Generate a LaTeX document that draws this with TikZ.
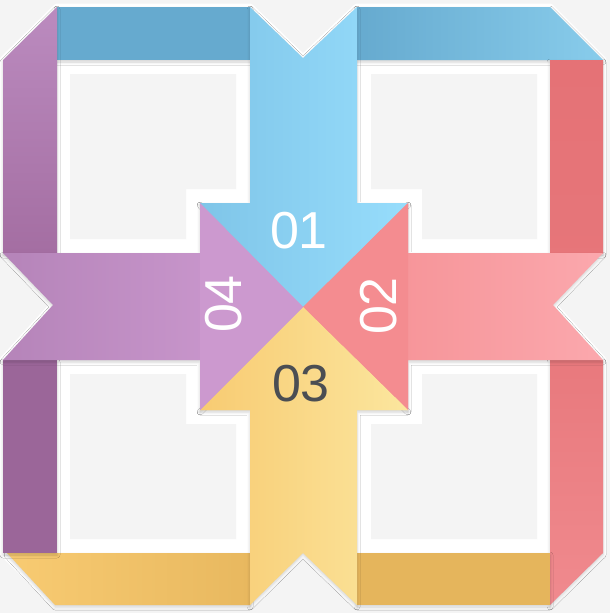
\documentclass[tikz,border=0pt]{standalone}
\usepackage{fontspec}
\setmainfont{Liberation Sans}
\usetikzlibrary{shadows.blur}

\definecolor{bgGray}{HTML}{F4F4F4}
\definecolor{blueL}{HTML}{7FC5E8}
\definecolor{blueR}{HTML}{97DDFC}
\definecolor{blueDark}{HTML}{66AACF}
\definecolor{blueMid}{HTML}{88CCEB}
\definecolor{redBand}{HTML}{E57276}
\definecolor{redLow}{HTML}{F08A8E}
\definecolor{pinkL}{HTML}{F48C90}
\definecolor{pinkR}{HTML}{FBA8AD}
\definecolor{yellowL}{HTML}{F8CB72}
\definecolor{yellowR}{HTML}{FBE69E}
\definecolor{goldBand}{HTML}{E5B55C}
\definecolor{goldMid}{HTML}{E8B85F}
\definecolor{purpleL}{HTML}{B584B9}
\definecolor{purpleR}{HTML}{D09DD3}
\definecolor{purpleDark}{HTML}{9B6699}
\definecolor{purpleTop}{HTML}{BB8BBF}
\definecolor{purpleMid}{HTML}{A46EA2}
\definecolor{numGray}{HTML}{4B4E53}

\tikzset{
  band/.style={blur shadow={shadow xshift=0pt, shadow yshift=-2pt,
      shadow blur radius=3pt, shadow opacity=18}},
  holeinner/.style={fill=bgGray},
  num/.style={font=\fontsize{52}{52}\selectfont, inner sep=0pt},
}

\begin{document}
\begin{tikzpicture}[x=1pt,y=-1pt]
  \fill[bgGray] (0,0) rectangle (610,613);
  \useasboundingbox (0,0) rectangle (610,613);

  % white outline round the whole ribbon
  \draw[white, fill=white, line width=7pt, line join=round]
    (57,7) -- (250,7) -- (303,58) -- (357,7) -- (550,7) -- (603,60)
    -- (603,253) -- (553,305) -- (603,360) -- (603,553) -- (550,605)
    -- (357,605) -- (303,553) -- (250,605) -- (55,605) -- (3,553)
    -- (3,360) -- (53,305) -- (3,253) -- (3,60) -- cycle;

  % the four holes
  \fill[holeinner] (70,74) -- (236,74) -- (236,189) -- (186,189) -- (186,239) -- (70,239) -- cycle;
  \fill[holeinner] (371,74) -- (537,74) -- (537,239) -- (422,239) -- (422,189) -- (371,189) -- cycle;
  \fill[holeinner] (70,374) -- (186,374) -- (186,424) -- (236,424) -- (236,539) -- (70,539) -- cycle;
  \fill[holeinner] (422,374) -- (537,374) -- (537,539) -- (371,539) -- (371,424) -- (422,424) -- cycle;

  % bands
  \fill[blueDark, band] (57,7) rectangle (250,60);
  \shade[band, top color=purpleTop, bottom color=purpleMid]
    (3,60) -- (57,7) -- (57,253) -- (3,253) -- cycle;
  \shade[band, left color=blueDark, right color=blueMid]
    (357,7) -- (550,7) -- (603,60) -- (357,60) -- cycle;
  \shade[band, top color=redBand, bottom color=redBand!85!redLow] (550,60) rectangle (603,253);
  \shade[band, top color=redBand!70!redLow, bottom color=redLow]
    (550,360) -- (603,360) -- (603,553) -- (550,605) -- cycle;
  \fill[goldBand, band] (357,553) rectangle (550,605);
  \shade[band, left color=yellowL, right color=goldMid]
    (7,553) -- (250,553) -- (250,605) -- (55,605) -- cycle;
  \fill[purpleDark, band] (3,360) rectangle (57,553);

  % the four arrows
  \shade[band, left color=blueL, right color=blueR]
    (250,7) -- (303,58) -- (357,7) -- (357,203) -- (408,203) -- (303,307)
    -- (200,203) -- (250,203) -- cycle;
  \shade[band, left color=pinkL, right color=pinkR]
    (603,253) -- (553,305) -- (603,360) -- (408,360) -- (408,410) -- (303,307)
    -- (408,203) -- (408,253) -- cycle;
  \shade[band, left color=yellowL, right color=yellowR]
    (250,605) -- (303,553) -- (357,605) -- (357,410) -- (408,410) -- (303,307)
    -- (200,410) -- (250,410) -- cycle;
  \shade[band, left color=purpleL, right color=purpleR]
    (3,253) -- (53,305) -- (3,360) -- (200,360) -- (200,410) -- (303,307)
    -- (200,203) -- (200,253) -- cycle;

  % redraw centre triangles without shadows
  \shade[left color=blueL, right color=blueR] (200,203) -- (408,203) -- (303,307) -- cycle;
  \fill[pinkL] (408,203) -- (408,410) -- (303,307) -- cycle;
  \shade[left color=yellowL, right color=yellowR] (200,410) -- (408,410) -- (303,307) -- cycle;
  \fill[purpleR!85!purpleL] (200,203) -- (200,410) -- (303,307) -- cycle;

  % numbers
  \node[num, white] (n01) at (299,231) {01};
  \node[num, white, rotate=90] (n02) at (379,306) {02};
  \node[num, numGray] (n03) at (301,384) {03};
  \node[num, white, rotate=90] (n04) at (224,304) {04};
\end{tikzpicture}
\end{document}
